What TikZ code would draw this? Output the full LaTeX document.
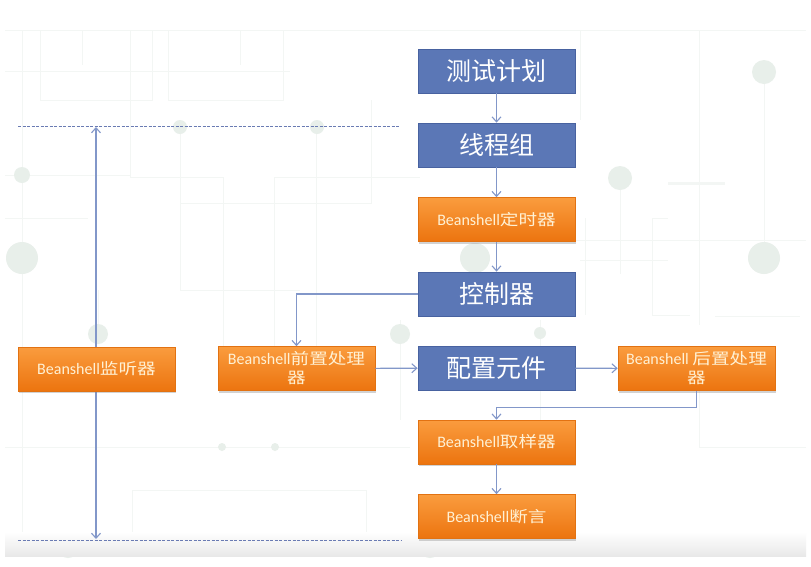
\documentclass[tikz,border=0pt]{standalone}
\usepackage{fontspec}
\setmainfont{Carlito}
\newfontfamily\cjk[FakeStretch=1.2]{Noto Sans CJK SC}
\newfontfamily\cjkb{Noto Sans CJK SC}
\usetikzlibrary{arrows.meta,shadows}
\definecolor{bluefill}{HTML}{5B77B6}
\definecolor{blueline}{HTML}{4862A0}
\definecolor{orgtop}{HTML}{FA9C3E}
\definecolor{orgbot}{HTML}{EC740F}
\definecolor{orgline}{HTML}{E27212}
\definecolor{orgtext}{HTML}{FFF1D4}
\definecolor{conncol}{HTML}{8297C9}
\definecolor{dashcol}{HTML}{6A7BB3}
\definecolor{pat}{HTML}{F3F6F4}
\definecolor{patdot}{HTML}{E8EFEA}
\newcommand{\bsh}{{\fontsize{16}{20}\selectfont Beanshell}}
\tikzset{
  bluebox/.style={draw=blueline, line width=0.8pt, fill=bluefill, minimum width=157pt, minimum height=44pt, inner sep=0pt, text=white, font=\cjkb\fontsize{25}{28}\selectfont},
  orangebox/.style={draw=orgline, line width=0.6pt, top color=orgtop, bottom color=orgbot, minimum width=157pt, minimum height=44pt, inner sep=0pt, text=orgtext, align=center, font=\fontsize{16}{20}\selectfont, drop shadow={opacity=0.35, shadow xshift=1pt, shadow yshift=-2pt}},
  conn/.style={draw=conncol, line width=1.1pt, -{Straight Barb[length=5pt,width=9pt]}},
  dualconn/.style={draw=conncol, line width=1.1pt, {Straight Barb[length=5pt,width=9pt]}-{Straight Barb[length=5pt,width=9pt]}},
  dashline/.style={draw=dashcol, line width=0.8pt, dash pattern=on 3pt off 1.5pt},
  patline/.style={draw=pat, line width=1pt},
  patdotstyle/.style={fill=patdot, draw=none}
}
\newcommand{\cj}[1]{{\cjk\fontsize{15.5}{20}\selectfont #1}}
\begin{document}
\begin{tikzpicture}[x=1pt,y=-1pt]
\useasboundingbox (0,0) rectangle (811,566);
\fill[white] (0,0) rectangle (811,566);
% faint background pattern
\draw[patline] (5,30) -- (806,30);
\draw[patline] (5,71) -- (290,71);
\draw[patline] (40,30) -- (40,100) -- (152,100) -- (152,30);
\draw[patline] (168,30) -- (168,100) -- (283,100) -- (283,30);
\draw[patline] (82,30) -- (82,65);
\draw[patline] (240,30) -- (240,65);
\draw[patline] (130,30) -- (130,177) -- (223,177) -- (223,350);
\draw[patline] (274,350) -- (274,177) -- (420,177);
\draw[patline] (316,127) -- (316,350);
\draw[patline] (371,100) -- (371,203) -- (180,203);
\draw[patline] (22,30) -- (22,540);
\draw[patline] (5,175) -- (130,175);
\draw[patline] (5,218) -- (88,218);
\draw[patline] (180,127) -- (180,290) -- (300,290);
\draw[patline] (98,290) -- (98,334);
\draw[patline] (400,320) -- (400,420);
\draw[patline] (5,447) -- (410,447);
\draw[patline] (132,490) rectangle (366,548);
\draw[patline] (620,178) -- (620,274);
\draw[patline] (580,260) -- (668,260);
\draw[patline] (699,30) -- (699,325);
\draw[patline, line width=3pt] (668,183) -- (725,183);
\draw[patline] (764,72) -- (764,258);
\draw[patline] (715,316) -- (800,316);
\draw[patline] (585,218) -- (585,315);
\draw[patline] (652,218) -- (652,315) -- (690,315);
\draw[patline] (652,218) -- (668,218);
\draw[patline] (699,390) -- (699,447) -- (806,447);
\draw[patline] (580,30) -- (580,120);
\draw[patline] (460,240) -- (806,240);
\draw[patline] (540,320) -- (540,420);
\fill[patdotstyle] (180,127) circle (7);
\fill[patdotstyle] (317,127) circle (7);
\fill[patdotstyle] (22,175) circle (8);
\fill[patdotstyle] (22,258) circle (16);
\fill[patdotstyle] (98,334) circle (10);
\fill[patdotstyle] (400,334) circle (10);
\fill[patdotstyle] (540,333) circle (6);
\fill[patdotstyle] (475,258) circle (15);
\fill[patdotstyle] (764,72) circle (12);
\fill[patdotstyle] (620,178) circle (12);
\fill[patdotstyle] (764,258) circle (16);
\fill[patdotstyle] (222,447) circle (4);
\fill[patdotstyle] (275,447) circle (4);
\fill[patdotstyle] (430,548) circle (10);
\fill[patdotstyle] (68,548) circle (10);
% bottom band
\shade[top color=white, bottom color=black!9] (5,532) rectangle (806,556);
% dashed guide lines
\coordinate (dl1) at (18,126);
\coordinate (dr1) at (400,126);
\coordinate (dl2) at (18,540);
\coordinate (dr2) at (402,540);
\draw[dashline] (dl1) -- (dr1);
\draw[dashline] (dl2) -- (dr2);
\coordinate (vt) at (96,127);
\coordinate (vb) at (96,539);
\draw[dualconn] (vt) -- (vb);
% nodes
\node[bluebox] (plan) at (496.5,71) {测试计划};
\node[bluebox] (tg) at (496.5,145) {线程组};
\node[orangebox] (timer) at (496.5,219.5) {\bsh\cj{定时器}};
\node[bluebox] (ctrl) at (496.5,294) {控制器};
\node[bluebox] (cfg) at (496.5,368) {配置元件};
\node[orangebox] (samp) at (496.5,442) {\bsh\cj{取样器}};
\node[orangebox] (assert) at (496.5,516.5) {\bsh\cj{断言}};
\node[orangebox] (pre) at (296.5,368.5) {\bsh\cj{前置处理}\\[-1pt]\cj{器}};
\node[orangebox] (post) at (696.5,368.5) {\bsh\ \cj{后置处理}\\[-1pt]\cj{器}};
\node[orangebox] (lis) at (96.5,369) {\bsh\cj{监听器}};
% connectors
\draw[conn] (plan) -- (tg);
\draw[conn] (tg) -- (timer);
\draw[conn] (timer) -- (ctrl);
\draw[conn] (ctrl.west) -| (pre.north);
\draw[conn] (pre) -- (cfg);
\draw[conn] (cfg) -- (post);
\draw[conn] (post.south) -- ++(0,17) -| (samp.north);
\draw[conn] (samp) -- (assert);
\end{tikzpicture}
\end{document}
